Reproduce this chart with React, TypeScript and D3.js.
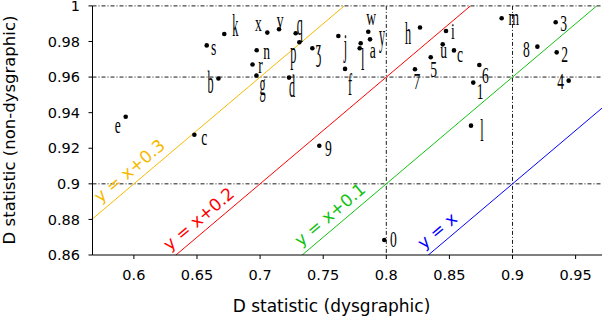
import React from 'react';
import * as d3 from 'd3';

// one entry per writer: label, D statistic on dysgraphic vs non-dysgraphic text
const pointLabels = ['e', 'c', 's', 'k', 'b', 'x', 'v', 'q', 'p', 'n', 'r', 'g', 'd', 'ʒ', 'j', 'f', 'w', 'y', 'a', 'l', 'h', '7', '5', 'i', 'u', 'c', '6', '1', 'l', 'm', '3', '8', '2', '4', '9', '0'];
const dysgraphicD = [0.5935, 0.6479, 0.6577, 0.6716, 0.667, 0.7057, 0.715, 0.7282, 0.7311, 0.6973, 0.694, 0.6971, 0.7229, 0.7414, 0.762, 0.7673, 0.7857, 0.7871, 0.7797, 0.7789, 0.8267, 0.8227, 0.8352, 0.8473, 0.8447, 0.8536, 0.8737, 0.8689, 0.8671, 0.8914, 0.9342, 0.9197, 0.935, 0.9445, 0.7469, 0.7984];
const nonDysgraphicD = [0.9377, 0.9276, 0.9778, 0.9842, 0.9592, 0.985, 0.9869, 0.9846, 0.9796, 0.9751, 0.9671, 0.9609, 0.9597, 0.9762, 0.9831, 0.9646, 0.9855, 0.9812, 0.979, 0.9762, 0.9879, 0.9644, 0.9711, 0.9859, 0.9784, 0.975, 0.9668, 0.9569, 0.9327, 0.9931, 0.9908, 0.9771, 0.9739, 0.958, 0.9214, 0.8684];
// where each label sits relative to its dot (px)
const labelNudge = [[-8, 9], [10, 3], [7, 3], [11, -7], [-8, 5], [-9, -8], [1, -8], [4, -8], [-6, 11], [10, 2], [8, 2], [6, 10], [3, 10], [6, 2], [7, 11], [5, 17], [3, -14], [12, -3], [12, 8], [3, 12], [-12, 7], [2, 13], [3, 13], [7, 1], [1, 7], [6, 5], [6, 11], [7, 10], [11, 6], [12, 0], [8, 2], [-11, 3], [8, 3], [-8, 1], [9, 3], [9, 0]];

const xTicks = [0.6, 0.65, 0.7, 0.75, 0.8, 0.85, 0.9, 0.95];
const xTickLabels = ['0.6', '0.65', '0.7', '0.75', '0.8', '0.85', '0.9', '0.95'];
const yTicks = [0.86, 0.88, 0.9, 0.92, 0.94, 0.96, 0.98, 1];
const yTickLabels = ['0.86', '0.88', '0.9', '0.92', '0.94', '0.96', '0.98', '1'];
const vRefs = [0.8, 0.9];
const hRefs = [0.9, 0.96, 1];

// reference diagonals; the source draws them squashed (slope 0.6 on these axes)
const diagOffsets = [0.3, 0.2, 0.1, 0];
const diagNames = ['y = x+0.3', 'y = x+0.2', 'y = x+0.1', 'y = x'];
const diagColors = ['#f7b900', '#ff0000', '#12c212', '#0000ff'];
const diagLabelAt = [0.603, 0.658, 0.762, 0.847];
const diagSlope = 0.6;
const diagBase = 0.36;

const W = 602;
const H = 320;
const left = 92.5;
const bottom = 255;
const top = 5.9;

// handwritten glyphs with long strokes are drawn taller
const tallGlyphs = 'bdfhklpqgjyʒ';

const x = d3.scaleLinear().domain([0.5672, 0.9709]).range([left, W]);
const y = d3.scaleLinear().domain([0.86, 1]).range([bottom, top]);

const diag = (off: number) => (v: number) => diagSlope * (v + off) + diagBase;

export default function App() {
  const [x0, x1] = x.domain();
  const angle = (Math.atan2(y(diag(0)(x1)) - y(diag(0)(x0)), x(x1) - x(x0)) * 180) / Math.PI;
  const dash = '4,2,1,2';

  return (
    <svg width={W} height={H} style={{ position: 'fixed', left: 0, top: 0, background: '#fff' }}
      fontFamily="DejaVu Sans">
      <defs>
        <clipPath id="plot">
          <rect x={left} y={top} width={W - left} height={bottom - top} />
        </clipPath>
      </defs>

      {/* reference grid */}
      {hRefs.map(v => (
        <line key={'h' + v} x1={left} x2={W} y1={y(v)} y2={y(v)} stroke="#000" strokeWidth={0.9} strokeDasharray={dash} />
      ))}
      {vRefs.map(v => (
        <line key={'v' + v} x1={x(v)} x2={x(v)} y1={top} y2={bottom} stroke="#000" strokeWidth={0.9} strokeDasharray={dash} />
      ))}

      {/* diagonals */}
      <g clipPath="url(#plot)">
        {diagOffsets.map((off, i) => {
          const f = diag(off);
          const d = d3.line<number>().x(v => x(v)).y(v => y(f(v)))([x0, x1]);
          return <path key={i} d={d || ''} stroke={diagColors[i]} strokeWidth={1} fill="none" />;
        })}
      </g>
      {diagOffsets.map((off, i) => {
        const lx = diagLabelAt[i];
        return (
          <text key={'dl' + i} transform={`translate(${x(lx)},${y(diag(off)(lx))}) rotate(${angle})`}
            y={-7} textAnchor="middle" fontSize={17} fill={diagColors[i]}>
            {diagNames[i]}
          </text>
        );
      })}

      {/* points */}
      {pointLabels.map((lab, i) => {
        const px = x(dysgraphicD[i]);
        const py = y(nonDysgraphicD[i]);
        const [dx, dy] = labelNudge[i];
        const s = tallGlyphs.includes(lab) ? 'scale(0.72,1.85)' : 'scale(0.8,1.35)';
        return (
          <g key={'p' + i}>
            <circle cx={px} cy={py} r={2.3} fill="#000" />
            <g transform={`translate(${px + dx},${py + dy}) ${s}`}>
              <text textAnchor="middle" dy="0.3em" fontFamily="Liberation Serif" fontSize={17} fill="#000">{lab}</text>
            </g>
          </g>
        );
      })}

      {/* axes */}
      <line x1={left} x2={left} y1={top} y2={bottom} stroke="#000" strokeWidth={1} />
      <line x1={left} x2={W} y1={bottom} y2={bottom} stroke="#000" strokeWidth={1} />
      {yTicks.map((v, i) => (
        <g key={'yt' + v}>
          <line x1={left - 4} x2={left} y1={y(v)} y2={y(v)} stroke="#000" />
          <text x={80} y={y(v)} dy="0.36em" textAnchor="end" fontSize={14.5}>{yTickLabels[i]}</text>
        </g>
      ))}
      {xTicks.map((v, i) => (
        <g key={'xt' + v}>
          <line x1={x(v)} x2={x(v)} y1={bottom} y2={bottom + 4} stroke="#000" />
          <text x={x(v)} y={280} textAnchor="middle" fontSize={14.5}>{xTickLabels[i]}</text>
        </g>
      ))}
      <text x={331.5} y={312} textAnchor="middle" fontSize={17}>D statistic (dysgraphic)</text>
      <text transform="translate(9,130) rotate(-90)" textAnchor="middle" dy="0.35em" fontSize={16.5}>
        D statistic (non-dysgraphic)
      </text>
    </svg>
  );
}
